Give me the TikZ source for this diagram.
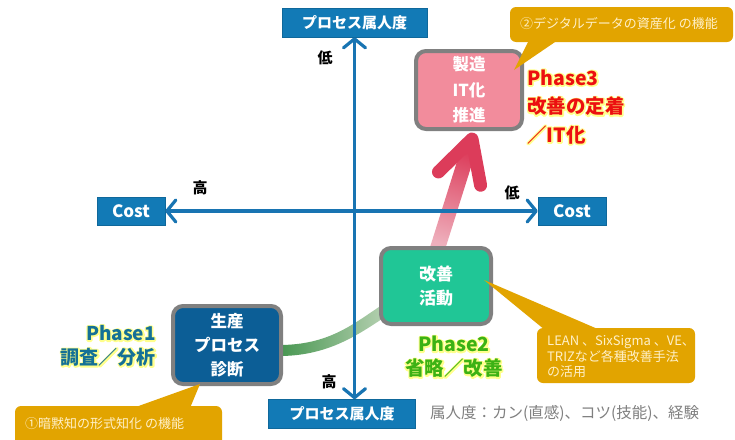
\documentclass[tikz,border=0pt]{standalone}
\usepackage{fontspec}
\setmainfont{Noto Sans CJK JP}
\usetikzlibrary{arrows.meta,calc,backgrounds}
\newcommand\glowtxt[1]{\leavevmode\rlap{\special{pdf:literal direct 1 Tr 2.8 w 1 j 1 1 0.55 RG}#1\special{pdf:literal direct 0 Tr}}#1}
\definecolor{axisblue}{RGB}{24,116,178}
\definecolor{boxblue}{RGB}{18,122,182}
\definecolor{gold}{RGB}{226,164,0}
\definecolor{goldtext}{RGB}{255,240,200}
\definecolor{pinkfill}{RGB}{242,140,156}
\definecolor{tealfill}{RGB}{32,198,150}
\definecolor{navyfill}{RGB}{12,94,150}
\definecolor{rimgray}{RGB}{128,128,128}
\definecolor{phthree}{RGB}{236,16,16}
\definecolor{phtwo}{RGB}{60,178,20}
\definecolor{phone}{RGB}{20,112,150}
\definecolor{arrowred}{RGB}{220,60,90}
\definecolor{arrowpink}{RGB}{238,175,188}
\definecolor{greendark}{RGB}{70,150,80}
\definecolor{greenlight}{RGB}{185,210,180}
\definecolor{notegray}{RGB}{128,128,128}
\tikzset{
  axisbox/.style={rectangle, fill=boxblue, draw=boxblue!85!black, line width=0.5pt,
    text=white, font=\bfseries\fontsize{15}{18}\selectfont, inner sep=0pt},
  costbox/.style={axisbox, font=\bfseries\fontsize{17}{20}\selectfont, minimum width=68pt, minimum height=28pt},
  axisline/.style={draw=axisblue, line width=3.2pt,
    arrows={Straight Barb[length=9pt,width=22pt,round]-Straight Barb[length=9pt,width=22pt,round]}},
  phasebox/.style={rectangle, rounded corners=10pt, draw=rimgray, line width=4pt,
    text=white, align=center, inner sep=0pt, font=\bfseries\fontsize{16}{24}\selectfont},
  lbl/.style={font=\bfseries\fontsize{15}{18}\selectfont, text=black, inner sep=0pt},
  phasetext/.style={inner sep=0pt, font=\bfseries\fontsize{19.5}{28.5}\selectfont},
  callout/.style={fill=gold},
  calltext/.style={text=goldtext, font=\fontsize{13}{15.5}\selectfont, align=left, inner sep=0pt},
}
\begin{document}
\begin{tikzpicture}[x=1pt,y=-1pt]
\useasboundingbox (0,0) rectangle (735,439);

% axis boxes
\node[axisbox, minimum width=145pt, minimum height=29pt] (ptop) at (354.5,22.5) {プロセス属人度};
\node[axisbox, minimum width=147pt, minimum height=29pt] (pbot) at (342,414) {プロセス属人度};
\node[costbox] (costl) at (131,211) {Cost};
\node[costbox] (costr) at (572,211) {Cost};

% axes
\draw[axisline] (ptop.south) -- (ptop.south |- pbot.north);
\draw[axisline] (costl.east) -- (costr.west);

% axis labels
\node[lbl] (lowtop) at (325,58) {低};
\node[lbl] (hibot) at (329,382) {高};
\node[lbl] (hileft) at (200,188) {高};
\node[lbl] (lowright) at (512,193) {低};

% phase nodes
\node[phasebox, fill=pinkfill, minimum width=106pt, minimum height=78pt, font=\bfseries\fontsize{16.5}{25.5}\selectfont] (seizo) at (469,90) {製造\\IT化\\推進};
\node[phasebox, fill=tealfill, minimum width=110pt, minimum height=76pt, font=\bfseries\fontsize{17}{23.5}\selectfont] (kaizen) at (436,286) {改善\\活動};
\node[phasebox, fill=navyfill, minimum width=108pt, minimum height=78pt, font=\bfseries\fontsize{16.5}{24}\selectfont] (seisan) at (227,345) {生産\\プロセス\\診断};

% big progress arrow behind nodes
\begin{scope}[on background layer]
  \fill[white] (0,0) rectangle (735,439);
  % green part
  \coordinate (gs) at ($(seisan.east)+(-4,5)$);
  \coordinate (ge) at ($(kaizen.south west)+(6,-16)$);
  \shade[left color=greendark, right color=greenlight]
    ($(gs)+(0,-5)$) .. controls ($(gs)+(50,-5)$) and ($(ge)+(-32,14)$) .. ($(ge)+(-3,-5)$)
    -- ($(ge)+(3,5)$) .. controls ($(ge)+(-26,24)$) and ($(gs)+(50,6)$) .. ($(gs)+(0,6)$) -- cycle;
  % pink part
  \coordinate (ptip) at ($(seizo.south)+(3,8)$);
  \coordinate (pbase) at ($(kaizen.north)+(1,4)$);
  \coordinate (hb) at ($(ptip)!6pt!(pbase)$);
  \shade[top color=arrowred, bottom color=arrowpink, shading angle=-17]
    ($(pbase)!7.5pt!90:(ptip)$) -- ($(hb)!7.5pt!-90:(pbase)$) -- ($(hb)!7.5pt!90:(pbase)$)
    -- ($(pbase)!7.5pt!-90:(ptip)$) -- cycle;
  \draw[arrowred, line width=13pt, line cap=round, line join=round]
    ($(ptip)!47pt!28:(pbase)$) -- (ptip) -- ($(ptip)!47pt!-28:(pbase)$);
\end{scope}

% phase texts
\node[phasetext, text=phthree, anchor=west, align=left] (ph3) at (527,107)
  {\glowtxt{Phase3}\\\glowtxt{改善の定着}\\\glowtxt{／IT化}};
\node[phasetext, text=phtwo, align=center, font=\bfseries\fontsize{19.5}{24}\selectfont] (ph2) at (454,357)
  {\glowtxt{Phase2}\\\glowtxt{省略／改善}};
\node[phasetext, text=phone, anchor=east, align=right, font=\bfseries\fontsize{19}{24}\selectfont] (ph1) at (156,346)
  {\glowtxt{Phase1}\\\glowtxt{調査／分析}};

% callout 2 (top right)
\coordinate (c2tip) at ($(seizo.east)+(-10,-20)$);
\fill[callout] (c2tip) -- (529,40) -- (558,40) -- cycle;
\node[callout, rounded corners=6pt, minimum width=223pt, minimum height=35pt, inner sep=0pt] (c2) at (621.5,24.5) {};
\node[calltext, anchor=west] (c2t) at (520,24) {②デジタルデータの資産化 の機能};

% callout LEAN
\coordinate (cltip) at ($(kaizen.east)+(-9,-6)$);
\fill[callout] (cltip) -- (545,330) -- (600,330) -- cycle;
\node[callout, rounded corners=6pt, minimum width=158pt, minimum height=55pt, inner sep=0pt] (cl) at (616,355.5) {};
\node[calltext, anchor=west] (clt) at (547,357) {LEAN 、SixSigma 、VE、\\TRIZなど各種改善手法\\の活用};

% callout 1 (bottom left)
\coordinate (c1tip) at ($(seisan.south)+(-27,-2)$);
\fill[callout] (c1tip) -- (133,408) -- (190,408) -- cycle;
\fill[callout, rounded corners=6pt] (15,406) rectangle (222,450);
\node[calltext, anchor=west] (c1t) at (25,424) {①暗黙知の形式知化 の機能};

% note
\node[inner sep=0pt, anchor=west, text=notegray, font=\fontsize{15.5}{18}\selectfont] (note) at (430,413) {属人度：カン(直感)、コツ(技能)、経験};
\end{tikzpicture}
\end{document}
